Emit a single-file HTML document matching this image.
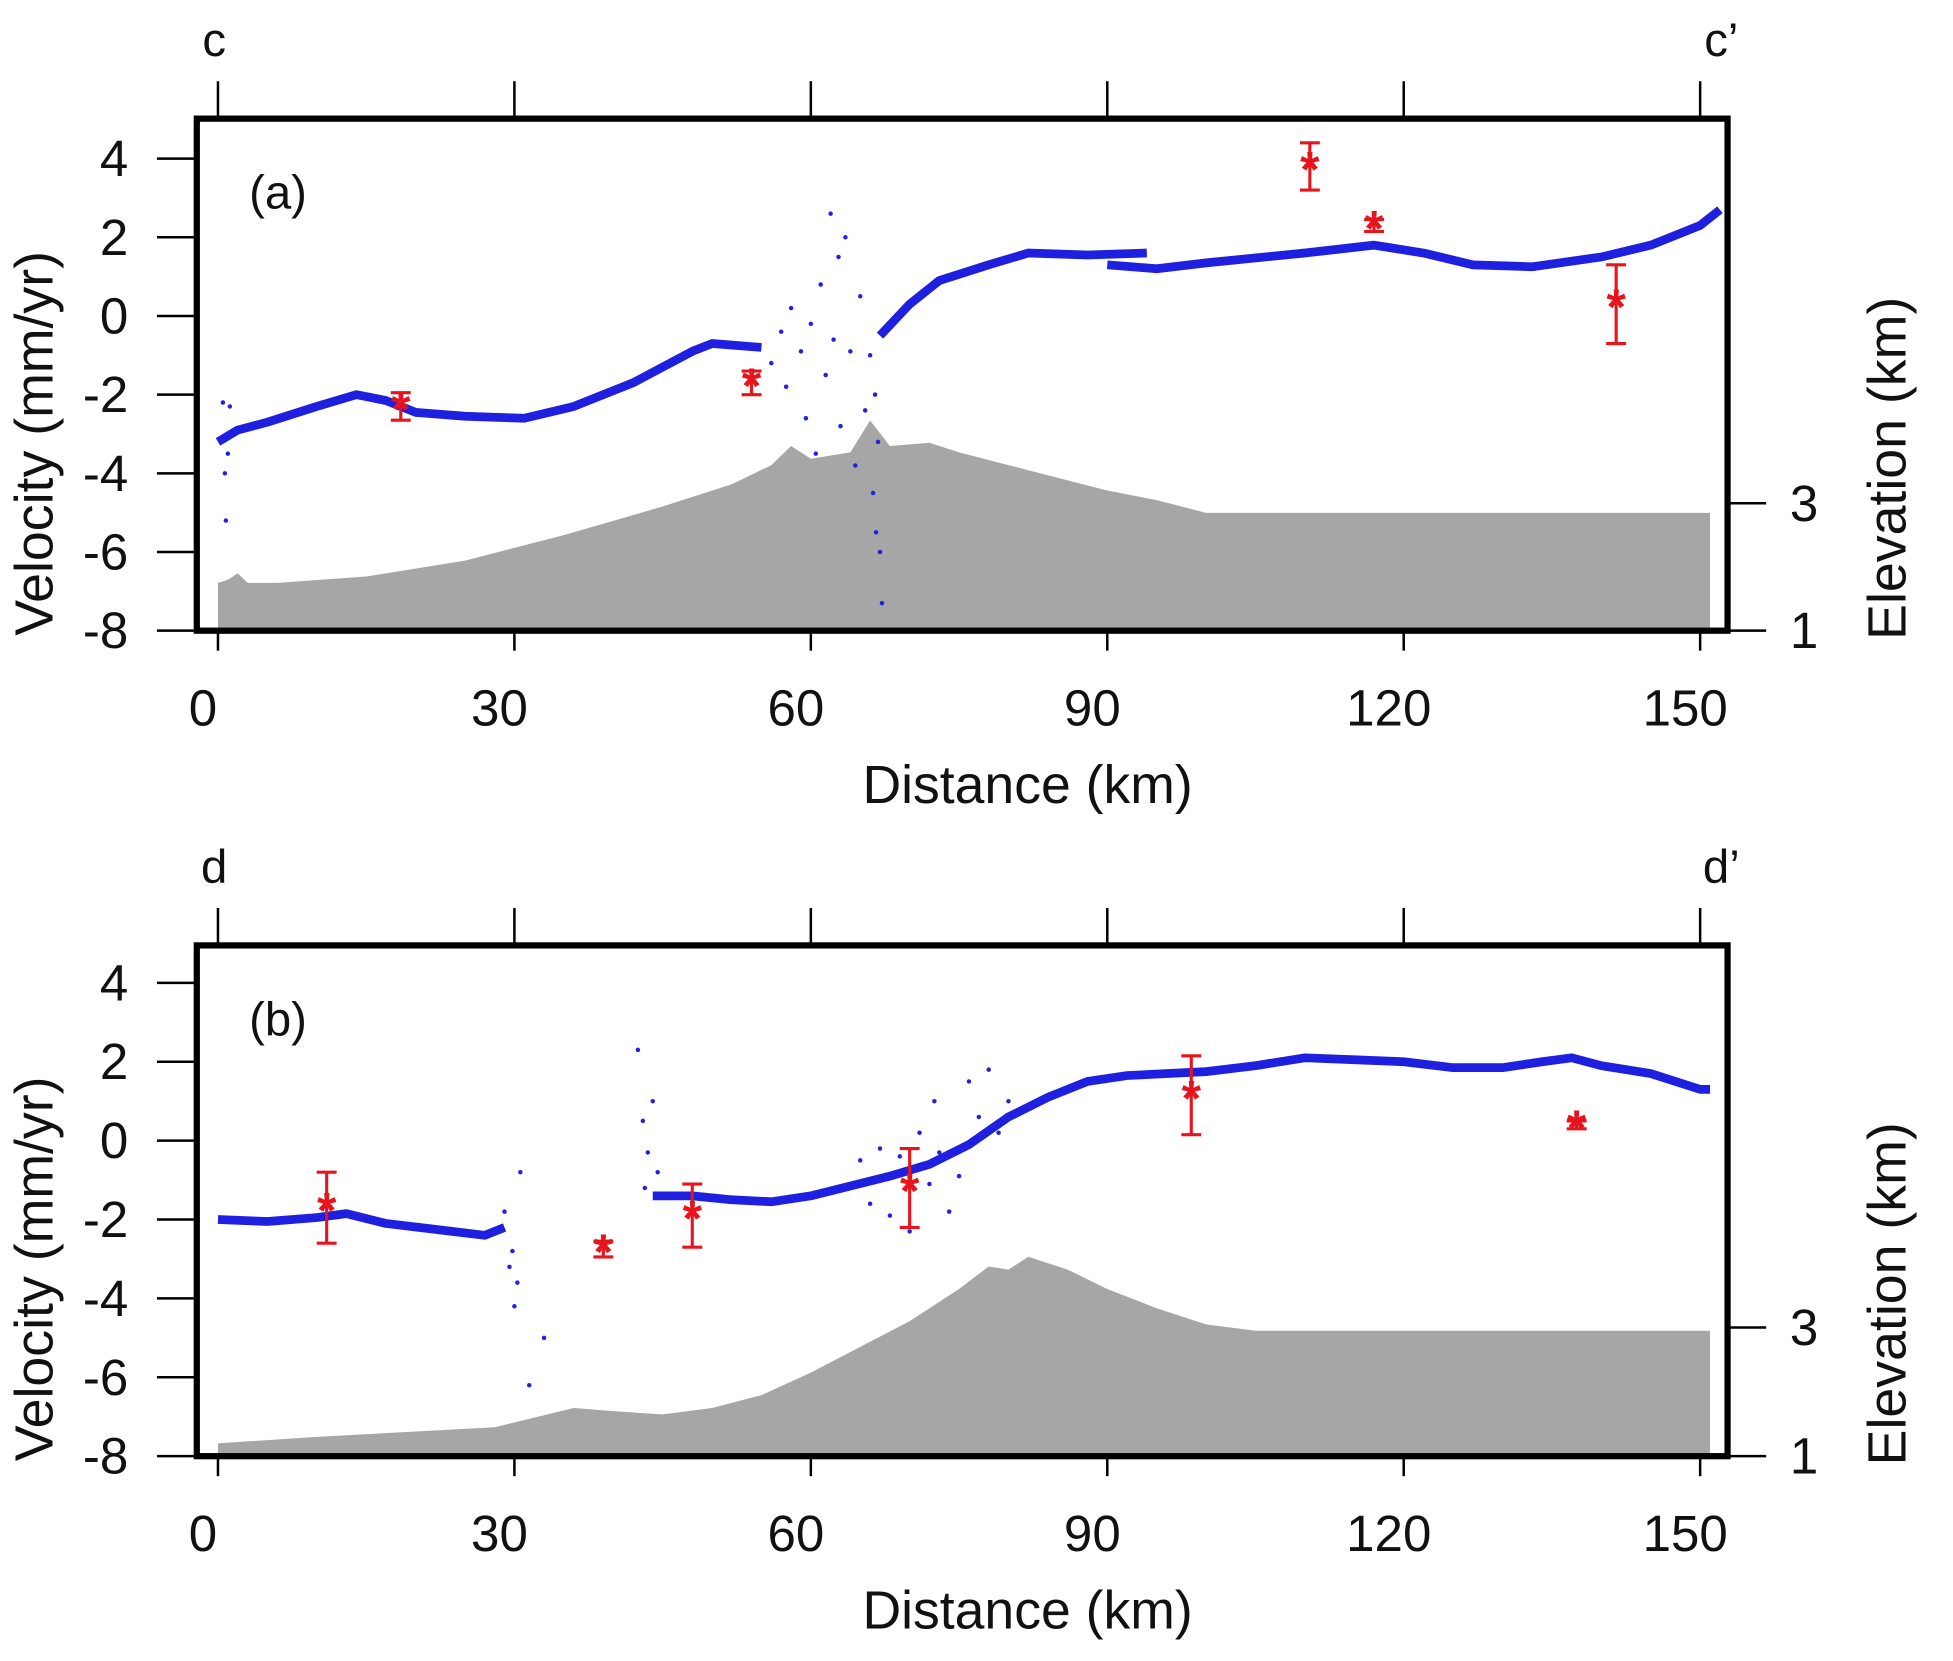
<!DOCTYPE html>
<html><head><meta charset="utf-8">
<style>
html,body{margin:0;padding:0;background:#fff;}
svg{display:block;}
text{font-family:"Liberation Sans",Arial,sans-serif;fill:#111;}
</style></head>
<body>
<svg id="fig" width="1953" height="1661" viewBox="0 0 1568 1330" preserveAspectRatio="none" xmlns="http://www.w3.org/2000/svg"></svg>
<script>
// ---- Panel (a) data ----
const aVelDist=[0,2,5,10,14,17,20,25,31,36,42,48,50,55];
const aVelVal=[-3.2,-2.9,-2.7,-2.3,-2.0,-2.15,-2.45,-2.55,-2.6,-2.3,-1.7,-0.9,-0.7,-0.8];
const aVel2Dist=[67,70,73,78,82,88,94];
const aVel2Val=[-0.5,0.3,0.9,1.3,1.6,1.55,1.6];
const aVel3Dist=[90,95,100,110,117,122,127,133,140,145,150,152];
const aVel3Val=[1.3,1.2,1.35,1.6,1.8,1.6,1.3,1.25,1.5,1.8,2.3,2.7];
const aNoiseDist=[0.5,0.7,0.8,1,1.2,56,57,57.5,58,59,59.5,60,60.5,61,61.5,62,62.3,62.8,63,63.5,64,64.5,65,65.5,66,66.3,66.6,67,67.2,66.8,66.5];
const aNoiseVal=[-2.2,-4.0,-5.2,-3.5,-2.3,-1.2,-0.4,-1.8,0.2,-0.9,-2.6,-0.2,-3.5,0.8,-1.5,2.6,-0.6,1.5,-2.8,2.0,-0.9,-3.8,0.5,-2.4,-1.0,-4.5,-5.5,-6.0,-7.3,-3.2,-2.0];
const aElevDist=[0,1,2,3,6,15,25,35,45,52,56,58,60,62,64,66,68,72,75,80,85,90,95,100,150,151];
const aElevVal=[1.75,1.8,1.9,1.75,1.75,1.85,2.1,2.5,2.95,3.3,3.6,3.9,3.7,3.75,3.8,4.3,3.9,3.95,3.8,3.6,3.4,3.2,3.05,2.85,2.85,2.85];
const aErrDist=[18.5,54,110.5,117,141.5];
const aErrVal=[-2.3,-1.7,3.8,2.3,0.3];
const aErrSize=[0.35,0.3,0.6,0.15,1.0];
// ---- Panel (b) data ----
const bVelDist=[0,5,10,13,17,22,27,29];
const bVelVal=[-2.0,-2.05,-1.95,-1.85,-2.1,-2.25,-2.4,-2.2];
const bVel2Dist=[44,48,52,56,60,64,68,72,76,80,84,88,92,100,105,110,115,120,125,130,134,137,140,145,150,151];
const bVel2Val=[-1.4,-1.4,-1.5,-1.55,-1.4,-1.15,-0.9,-0.6,-0.1,0.6,1.1,1.5,1.65,1.75,1.9,2.1,2.05,2.0,1.85,1.85,2.0,2.1,1.9,1.7,1.3,1.3];
const bNoiseDist=[29,29.5,30,30.3,30.6,29.8,33,31.5,42.5,43,43.5,44,44.5,43.2,65,66,67,68,69,70,71,72,72.5,73,74,75,76,77,78,79,80];
const bNoiseVal=[-1.8,-3.2,-4.2,-3.6,-0.8,-2.8,-5.0,-6.2,2.3,0.5,-0.3,1.0,-0.8,-1.2,-0.5,-1.6,-0.2,-1.9,-0.4,-2.3,0.2,-1.1,1.0,-0.3,-1.8,-0.9,1.5,0.6,1.8,0.2,1.0];
const bElevDist=[0,10,28,32,36,40,45,50,55,60,65,70,75,78,80,82,86,90,95,100,105,150,151];
const bElevVal=[1.2,1.3,1.45,1.6,1.75,1.7,1.65,1.75,1.95,2.3,2.7,3.1,3.6,3.95,3.9,4.1,3.9,3.6,3.3,3.05,2.95,2.95,2.95];
const bErrDist=[11,39,48,70,98.5,137.5];
const bErrVal=[-1.7,-2.75,-1.9,-1.2,1.15,0.4];
const bErrSize=[0.9,0.2,0.8,1.0,1.0,0.1];
// ---- ticks ----
const xTicks=[0,30,60,90,120,150];
const yTicks=[4,2,0,-2,-4,-6,-8];
const elevTicks=[3,1];

const NS="http://www.w3.org/2000/svg";
const svg=document.getElementById('fig');
function el(tag,attrs,parent,txt){const e=document.createElementNS(NS,tag);for(const k in attrs)e.setAttribute(k,attrs[k]);if(txt!==undefined)e.textContent=txt;(parent||svg).appendChild(e);return e;}

function panel(o){
  const g=el('g',{});
  
  
  const X=d=>175+d*(1365-175)/150;
  const Y=v=>o.yBot-(v+8)*(o.yBot-o.y4)/12;
  const E=e=>o.yBot-(e-1)*(o.yBot-o.e3)/2;
  let p='M'+X(o.eD[0])+','+o.yBot;
  o.eD.forEach((d,i)=>p+=' L'+X(d)+','+E(o.eV[i]));
  p+=' L'+X(o.eD[o.eD.length-1])+','+o.yBot+' Z';
  const area=el('path',{d:p,fill:'#a6a6a6'},g);
  
  
  o.vel.forEach((s,k)=>{
    const pts=s[0].map((d,i)=>X(d)+','+Y(s[1][i])).join(' ');
    const l=el('polyline',{points:pts,fill:'none',stroke:'#1f1fe0','stroke-width':7,'stroke-linejoin':'round'},g);
    
    
  });
  o.nD.forEach((d,i)=>{
    const c=el('circle',{cx:X(d),cy:Y(o.nV[i]),r:1.8,fill:'#2222dd'},g);
    
    
  });
  o.errD.forEach((d,i)=>{
    const x=X(d),y1=Y(o.errV[i]+o.errS[i]),y2=Y(o.errV[i]-o.errS[i]);
    const eg=el('g',{stroke:'#e8141c','stroke-width':2.5},g);
    
    
    el('line',{x1:x,x2:x,y1:y1,y2:y2},eg);
    el('line',{x1:x-8,x2:x+8,y1:y1,y2:y1},eg);
    el('line',{x1:x-8,x2:x+8,y1:y2,y2:y2},eg);
    const s=el('text',{x:x,y:Y(o.errV[i])+16,'text-anchor':'middle','font-size':40,'font-weight':'bold',style:'fill:#e8141c'},g,'*');
    
    
  });
  const fr=el('rect',{x:158,y:o.top,width:1229,height:o.yBot-o.top,fill:'none',stroke:'#000','stroke-width':5},g);
  
  
  xTicks.forEach(t=>{
    el('line',{x1:X(t),x2:X(t),y1:o.yBot,y2:o.yBot+16,stroke:'#000','stroke-width':2},g);
    el('line',{x1:X(t),x2:X(t),y1:o.top-30,y2:o.top,stroke:'#000','stroke-width':2},g);
    const tx=el('text',{x:X(t)-12,y:o.yBot+76,'text-anchor':'middle','font-size':41},g,t);
    
    
  });
  yTicks.forEach(t=>{
    el('line',{x1:126,x2:158,y1:Y(t),y2:Y(t),stroke:'#000','stroke-width':2},g);
    const tx=el('text',{x:103,y:Y(t)+14,'text-anchor':'end','font-size':41},g,t);
    
    
  });
  elevTicks.forEach(t=>{
    el('line',{x1:1387,x2:1418,y1:E(t),y2:E(t),stroke:'#000','stroke-width':2},g);
    const tx=el('text',{x:1437,y:E(t)+14,'font-size':41},g,t);
    
    
  });
  const xt=el('text',{x:825,y:o.yBot+138,'text-anchor':'middle','font-size':43},g,'Distance (km)');
  
  
  const yt=el('text',{x:0,y:0,'text-anchor':'middle','font-size':43,transform:'translate(42,'+(o.yBot-150)+') rotate(-90)'},g,'Velocity (mm/yr)');
  
  
  const et=el('text',{x:0,y:0,'text-anchor':'middle','font-size':43,transform:'translate(1530,'+(o.yBot-130)+') rotate(-90)'},g,'Elevation (km)');
  
  
  const pl=el('text',{x:200,y:o.top+72,'font-size':38},g,o.label);
  
  
  const l1=el('text',{x:172,y:o.top-50,'text-anchor':'middle','font-size':38},g,o.p1);
  
  
  const l2=el('text',{x:1382,y:o.top-50,'text-anchor':'middle','font-size':38},g,o.p2);
  
  
}
panel({name:'panel-a',top:95,yBot:505,y4:127,e3:403,label:'(a)',p1:'c',p2:'c\u2019',
  vel:[[aVelDist,aVelVal],[aVel2Dist,aVel2Val],[aVel3Dist,aVel3Val]],nD:aNoiseDist,nV:aNoiseVal,
  eD:aElevDist,eV:aElevVal,errD:aErrDist,errV:aErrVal,errS:aErrSize});
panel({name:'panel-b',top:757,yBot:1166,y4:787,e3:1063,label:'(b)',p1:'d',p2:'d\u2019',
  vel:[[bVelDist,bVelVal],[bVel2Dist,bVel2Val]],nD:bNoiseDist,nV:bNoiseVal,
  eD:bElevDist,eV:bElevVal,errD:bErrDist,errV:bErrVal,errS:bErrSize});
</script>
</body></html>
